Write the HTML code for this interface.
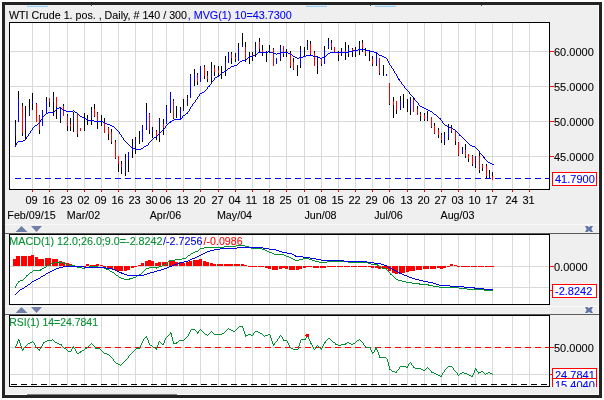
<!DOCTYPE html><html><head><meta charset="utf-8"><title>WTI Crude chart</title>
<style>html,body{margin:0;padding:0;background:#fff;}svg{display:block}text{font-family:"Liberation Sans",sans-serif;font-size:11px;stroke-width:0.1px;}</style></head><body>
<svg width="604" height="400" viewBox="0 0 604 400">
<rect x="0" y="0" width="604" height="400" fill="#fff"/>
<g shape-rendering="crispEdges">
<rect x="2" y="2" width="600" height="396" fill="#232323"/>
<rect x="5" y="5" width="594" height="390" fill="#efefef"/>
<rect x="27" y="5" width="21" height="2" fill="#d6ebfb"/><rect x="27" y="6" width="21" height="1" fill="#9ccdf3"/>
<rect x="306" y="5" width="21" height="2" fill="#d6ebfb"/><rect x="306" y="6" width="21" height="1" fill="#9ccdf3"/>
<rect x="375" y="5" width="21" height="2" fill="#d6ebfb"/><rect x="375" y="6" width="21" height="1" fill="#9ccdf3"/>
<rect x="91" y="5" width="1" height="1" fill="#555"/>
<rect x="370" y="5" width="1" height="1" fill="#555"/>
<rect x="481" y="5" width="1" height="1" fill="#555"/>
<rect x="5" y="394" width="594" height="1" fill="#fbfbfb"/>
<rect x="598" y="5" width="1" height="390" fill="#fbfbfb"/>
<rect x="27" y="394" width="150" height="1" fill="#808080"/>
<rect x="5" y="224" width="594" height="1" fill="#fafafa"/>
<rect x="5" y="306" width="594" height="1" fill="#fafafa"/>
<rect x="5" y="233" width="594" height="1" fill="#5a5a5a"/>
<rect x="5" y="314" width="594" height="1" fill="#5a5a5a"/>
<rect x="9" y="22" width="541" height="168" fill="#fff"/>
<rect x="32" y="23" width="1" height="166" fill="#d9d9d9"/>
<rect x="49" y="23" width="1" height="166" fill="#d9d9d9"/>
<rect x="67" y="23" width="1" height="166" fill="#d9d9d9"/>
<rect x="84" y="23" width="1" height="166" fill="#d9d9d9"/>
<rect x="101" y="23" width="1" height="166" fill="#d9d9d9"/>
<rect x="118" y="23" width="1" height="166" fill="#d9d9d9"/>
<rect x="135" y="23" width="1" height="166" fill="#d9d9d9"/>
<rect x="152" y="23" width="1" height="166" fill="#d9d9d9"/>
<rect x="166" y="23" width="1" height="166" fill="#d9d9d9"/>
<rect x="183" y="23" width="1" height="166" fill="#d9d9d9"/>
<rect x="200" y="23" width="1" height="166" fill="#d9d9d9"/>
<rect x="218" y="23" width="1" height="166" fill="#d9d9d9"/>
<rect x="235" y="23" width="1" height="166" fill="#d9d9d9"/>
<rect x="252" y="23" width="1" height="166" fill="#d9d9d9"/>
<rect x="269" y="23" width="1" height="166" fill="#d9d9d9"/>
<rect x="286" y="23" width="1" height="166" fill="#d9d9d9"/>
<rect x="304" y="23" width="1" height="166" fill="#d9d9d9"/>
<rect x="321" y="23" width="1" height="166" fill="#d9d9d9"/>
<rect x="338" y="23" width="1" height="166" fill="#d9d9d9"/>
<rect x="355" y="23" width="1" height="166" fill="#d9d9d9"/>
<rect x="372" y="23" width="1" height="166" fill="#d9d9d9"/>
<rect x="389" y="23" width="1" height="166" fill="#d9d9d9"/>
<rect x="407" y="23" width="1" height="166" fill="#d9d9d9"/>
<rect x="424" y="23" width="1" height="166" fill="#d9d9d9"/>
<rect x="441" y="23" width="1" height="166" fill="#d9d9d9"/>
<rect x="458" y="23" width="1" height="166" fill="#d9d9d9"/>
<rect x="475" y="23" width="1" height="166" fill="#d9d9d9"/>
<rect x="492" y="23" width="1" height="166" fill="#d9d9d9"/>
<rect x="512" y="23" width="1" height="166" fill="#d9d9d9"/>
<rect x="529" y="23" width="1" height="166" fill="#d9d9d9"/>
<rect x="10" y="51" width="539" height="1" fill="#d9d9d9"/>
<rect x="10" y="86" width="539" height="1" fill="#d9d9d9"/>
<rect x="10" y="121" width="539" height="1" fill="#d9d9d9"/>
<rect x="10" y="156" width="539" height="1" fill="#d9d9d9"/>
<rect x="9" y="234" width="541" height="71" fill="#fff"/>
<rect x="32" y="235" width="1" height="69" fill="#d9d9d9"/>
<rect x="49" y="235" width="1" height="69" fill="#d9d9d9"/>
<rect x="67" y="235" width="1" height="69" fill="#d9d9d9"/>
<rect x="84" y="235" width="1" height="69" fill="#d9d9d9"/>
<rect x="101" y="235" width="1" height="69" fill="#d9d9d9"/>
<rect x="118" y="235" width="1" height="69" fill="#d9d9d9"/>
<rect x="135" y="235" width="1" height="69" fill="#d9d9d9"/>
<rect x="152" y="235" width="1" height="69" fill="#d9d9d9"/>
<rect x="166" y="235" width="1" height="69" fill="#d9d9d9"/>
<rect x="183" y="235" width="1" height="69" fill="#d9d9d9"/>
<rect x="200" y="235" width="1" height="69" fill="#d9d9d9"/>
<rect x="218" y="235" width="1" height="69" fill="#d9d9d9"/>
<rect x="235" y="235" width="1" height="69" fill="#d9d9d9"/>
<rect x="252" y="235" width="1" height="69" fill="#d9d9d9"/>
<rect x="269" y="235" width="1" height="69" fill="#d9d9d9"/>
<rect x="286" y="235" width="1" height="69" fill="#d9d9d9"/>
<rect x="304" y="235" width="1" height="69" fill="#d9d9d9"/>
<rect x="321" y="235" width="1" height="69" fill="#d9d9d9"/>
<rect x="338" y="235" width="1" height="69" fill="#d9d9d9"/>
<rect x="355" y="235" width="1" height="69" fill="#d9d9d9"/>
<rect x="372" y="235" width="1" height="69" fill="#d9d9d9"/>
<rect x="389" y="235" width="1" height="69" fill="#d9d9d9"/>
<rect x="407" y="235" width="1" height="69" fill="#d9d9d9"/>
<rect x="424" y="235" width="1" height="69" fill="#d9d9d9"/>
<rect x="441" y="235" width="1" height="69" fill="#d9d9d9"/>
<rect x="458" y="235" width="1" height="69" fill="#d9d9d9"/>
<rect x="475" y="235" width="1" height="69" fill="#d9d9d9"/>
<rect x="492" y="235" width="1" height="69" fill="#d9d9d9"/>
<rect x="512" y="235" width="1" height="69" fill="#d9d9d9"/>
<rect x="529" y="235" width="1" height="69" fill="#d9d9d9"/>
<rect x="10" y="266" width="539" height="1" fill="#d9d9d9"/>
<rect x="10" y="287" width="539" height="1" fill="#d9d9d9"/>
<rect x="9" y="315" width="541" height="72" fill="#fff"/>
<rect x="32" y="316" width="1" height="70" fill="#d9d9d9"/>
<rect x="49" y="316" width="1" height="70" fill="#d9d9d9"/>
<rect x="67" y="316" width="1" height="70" fill="#d9d9d9"/>
<rect x="84" y="316" width="1" height="70" fill="#d9d9d9"/>
<rect x="101" y="316" width="1" height="70" fill="#d9d9d9"/>
<rect x="118" y="316" width="1" height="70" fill="#d9d9d9"/>
<rect x="135" y="316" width="1" height="70" fill="#d9d9d9"/>
<rect x="152" y="316" width="1" height="70" fill="#d9d9d9"/>
<rect x="166" y="316" width="1" height="70" fill="#d9d9d9"/>
<rect x="183" y="316" width="1" height="70" fill="#d9d9d9"/>
<rect x="200" y="316" width="1" height="70" fill="#d9d9d9"/>
<rect x="218" y="316" width="1" height="70" fill="#d9d9d9"/>
<rect x="235" y="316" width="1" height="70" fill="#d9d9d9"/>
<rect x="252" y="316" width="1" height="70" fill="#d9d9d9"/>
<rect x="269" y="316" width="1" height="70" fill="#d9d9d9"/>
<rect x="286" y="316" width="1" height="70" fill="#d9d9d9"/>
<rect x="304" y="316" width="1" height="70" fill="#d9d9d9"/>
<rect x="321" y="316" width="1" height="70" fill="#d9d9d9"/>
<rect x="338" y="316" width="1" height="70" fill="#d9d9d9"/>
<rect x="355" y="316" width="1" height="70" fill="#d9d9d9"/>
<rect x="372" y="316" width="1" height="70" fill="#d9d9d9"/>
<rect x="389" y="316" width="1" height="70" fill="#d9d9d9"/>
<rect x="407" y="316" width="1" height="70" fill="#d9d9d9"/>
<rect x="424" y="316" width="1" height="70" fill="#d9d9d9"/>
<rect x="441" y="316" width="1" height="70" fill="#d9d9d9"/>
<rect x="458" y="316" width="1" height="70" fill="#d9d9d9"/>
<rect x="475" y="316" width="1" height="70" fill="#d9d9d9"/>
<rect x="492" y="316" width="1" height="70" fill="#d9d9d9"/>
<rect x="512" y="316" width="1" height="70" fill="#d9d9d9"/>
<rect x="529" y="316" width="1" height="70" fill="#d9d9d9"/>
<rect x="10" y="347" width="539" height="1" fill="#d9d9d9"/>
<rect x="10" y="374" width="539" height="1" fill="#d9d9d9"/>
</g>
<g shape-rendering="crispEdges">
<rect x="15" y="120" width="1" height="25" fill="#000"/>
<rect x="15" y="124" width="1" height="12" fill="#0000ff"/>
<rect x="18" y="91" width="1" height="31" fill="#000"/>
<rect x="18" y="99" width="1" height="23" fill="#0000ff"/>
<rect x="22" y="103" width="1" height="33" fill="#000"/>
<rect x="22" y="106" width="1" height="27" fill="#ff0000"/>
<rect x="25" y="106" width="1" height="34" fill="#000"/>
<rect x="25" y="117" width="1" height="12" fill="#0000ff"/>
<rect x="29" y="99" width="1" height="17" fill="#000"/>
<rect x="29" y="109" width="1" height="7" fill="#0000ff"/>
<rect x="32" y="93" width="1" height="17" fill="#000"/>
<rect x="32" y="101" width="1" height="3" fill="#0000ff"/>
<rect x="36" y="103" width="1" height="19" fill="#000"/>
<rect x="36" y="104" width="1" height="18" fill="#ff0000"/>
<rect x="39" y="115" width="1" height="19" fill="#000"/>
<rect x="39" y="116" width="1" height="14" fill="#ff0000"/>
<rect x="42" y="110" width="1" height="16" fill="#000"/>
<rect x="42" y="111" width="1" height="15" fill="#0000ff"/>
<rect x="46" y="97" width="1" height="16" fill="#000"/>
<rect x="46" y="101" width="1" height="12" fill="#0000ff"/>
<rect x="49" y="98" width="1" height="9" fill="#000"/>
<rect x="49" y="98" width="1" height="4" fill="#ff0000"/>
<rect x="53" y="92" width="1" height="24" fill="#000"/>
<rect x="53" y="96" width="1" height="6" fill="#0000ff"/>
<rect x="56" y="97" width="1" height="22" fill="#000"/>
<rect x="56" y="97" width="1" height="10" fill="#ff0000"/>
<rect x="60" y="107" width="1" height="16" fill="#000"/>
<rect x="60" y="109" width="1" height="9" fill="#0000ff"/>
<rect x="63" y="104" width="1" height="12" fill="#000"/>
<rect x="63" y="106" width="1" height="10" fill="#ff0000"/>
<rect x="67" y="114" width="1" height="17" fill="#000"/>
<rect x="67" y="116" width="1" height="10" fill="#ff0000"/>
<rect x="70" y="118" width="1" height="13" fill="#000"/>
<rect x="70" y="124" width="1" height="3" fill="#ff0000"/>
<rect x="73" y="112" width="1" height="20" fill="#000"/>
<rect x="73" y="113" width="1" height="14" fill="#0000ff"/>
<rect x="77" y="114" width="1" height="23" fill="#000"/>
<rect x="77" y="114" width="1" height="20" fill="#ff0000"/>
<rect x="80" y="128" width="1" height="3" fill="#000"/>
<rect x="80" y="128" width="1" height="3" fill="#ff0000"/>
<rect x="84" y="113" width="1" height="18" fill="#000"/>
<rect x="87" y="115" width="1" height="10" fill="#000"/>
<rect x="87" y="118" width="1" height="3" fill="#0000ff"/>
<rect x="91" y="107" width="1" height="18" fill="#000"/>
<rect x="91" y="110" width="1" height="8" fill="#0000ff"/>
<rect x="94" y="104" width="1" height="13" fill="#000"/>
<rect x="94" y="109" width="1" height="7" fill="#ff0000"/>
<rect x="97" y="112" width="1" height="17" fill="#000"/>
<rect x="97" y="113" width="1" height="10" fill="#ff0000"/>
<rect x="101" y="115" width="1" height="11" fill="#000"/>
<rect x="104" y="118" width="1" height="15" fill="#000"/>
<rect x="104" y="122" width="1" height="11" fill="#ff0000"/>
<rect x="108" y="127" width="1" height="13" fill="#000"/>
<rect x="108" y="128" width="1" height="6" fill="#ff0000"/>
<rect x="111" y="129" width="1" height="15" fill="#000"/>
<rect x="111" y="132" width="1" height="10" fill="#ff0000"/>
<rect x="115" y="140" width="1" height="19" fill="#000"/>
<rect x="115" y="142" width="1" height="16" fill="#ff0000"/>
<rect x="118" y="156" width="1" height="16" fill="#000"/>
<rect x="118" y="156" width="1" height="8" fill="#ff0000"/>
<rect x="121" y="161" width="1" height="13" fill="#000"/>
<rect x="121" y="164" width="1" height="3" fill="#ff0000"/>
<rect x="125" y="154" width="1" height="22" fill="#000"/>
<rect x="125" y="158" width="1" height="15" fill="#0000ff"/>
<rect x="128" y="152" width="1" height="20" fill="#000"/>
<rect x="128" y="152" width="1" height="8" fill="#0000ff"/>
<rect x="132" y="139" width="1" height="19" fill="#000"/>
<rect x="132" y="146" width="1" height="5" fill="#0000ff"/>
<rect x="135" y="137" width="1" height="17" fill="#000"/>
<rect x="135" y="138" width="1" height="9" fill="#0000ff"/>
<rect x="139" y="131" width="1" height="13" fill="#000"/>
<rect x="139" y="138" width="1" height="2" fill="#0000ff"/>
<rect x="142" y="125" width="1" height="17" fill="#000"/>
<rect x="142" y="126" width="1" height="14" fill="#0000ff"/>
<rect x="146" y="103" width="1" height="27" fill="#000"/>
<rect x="146" y="111" width="1" height="19" fill="#0000ff"/>
<rect x="149" y="113" width="1" height="21" fill="#000"/>
<rect x="149" y="114" width="1" height="16" fill="#ff0000"/>
<rect x="152" y="127" width="1" height="11" fill="#000"/>
<rect x="152" y="130" width="1" height="2" fill="#0000ff"/>
<rect x="156" y="130" width="1" height="10" fill="#000"/>
<rect x="156" y="131" width="1" height="6" fill="#ff0000"/>
<rect x="159" y="118" width="1" height="24" fill="#000"/>
<rect x="159" y="119" width="1" height="19" fill="#0000ff"/>
<rect x="163" y="119" width="1" height="16" fill="#000"/>
<rect x="163" y="124" width="1" height="4" fill="#ff0000"/>
<rect x="166" y="105" width="1" height="19" fill="#000"/>
<rect x="166" y="107" width="1" height="17" fill="#0000ff"/>
<rect x="170" y="92" width="1" height="21" fill="#000"/>
<rect x="170" y="92" width="1" height="18" fill="#0000ff"/>
<rect x="173" y="99" width="1" height="20" fill="#000"/>
<rect x="173" y="101" width="1" height="17" fill="#ff0000"/>
<rect x="176" y="106" width="1" height="12" fill="#000"/>
<rect x="180" y="107" width="1" height="13" fill="#000"/>
<rect x="180" y="109" width="1" height="10" fill="#0000ff"/>
<rect x="183" y="99" width="1" height="12" fill="#000"/>
<rect x="183" y="107" width="1" height="4" fill="#0000ff"/>
<rect x="187" y="95" width="1" height="11" fill="#000"/>
<rect x="187" y="98" width="1" height="8" fill="#0000ff"/>
<rect x="190" y="74" width="1" height="24" fill="#000"/>
<rect x="190" y="76" width="1" height="22" fill="#0000ff"/>
<rect x="194" y="69" width="1" height="17" fill="#000"/>
<rect x="194" y="74" width="1" height="6" fill="#0000ff"/>
<rect x="197" y="73" width="1" height="12" fill="#000"/>
<rect x="197" y="75" width="1" height="7" fill="#ff0000"/>
<rect x="200" y="66" width="1" height="16" fill="#000"/>
<rect x="200" y="66" width="1" height="16" fill="#0000ff"/>
<rect x="204" y="65" width="1" height="14" fill="#000"/>
<rect x="204" y="67" width="1" height="9" fill="#ff0000"/>
<rect x="207" y="71" width="1" height="11" fill="#000"/>
<rect x="207" y="76" width="1" height="3" fill="#ff0000"/>
<rect x="211" y="62" width="1" height="20" fill="#000"/>
<rect x="211" y="67" width="1" height="11" fill="#0000ff"/>
<rect x="214" y="65" width="1" height="11" fill="#000"/>
<rect x="214" y="68" width="1" height="4" fill="#ff0000"/>
<rect x="218" y="66" width="1" height="10" fill="#000"/>
<rect x="218" y="70" width="1" height="3" fill="#ff0000"/>
<rect x="221" y="66" width="1" height="13" fill="#000"/>
<rect x="225" y="56" width="1" height="20" fill="#000"/>
<rect x="225" y="61" width="1" height="10" fill="#0000ff"/>
<rect x="228" y="52" width="1" height="11" fill="#000"/>
<rect x="228" y="53" width="1" height="10" fill="#0000ff"/>
<rect x="231" y="52" width="1" height="12" fill="#000"/>
<rect x="231" y="54" width="1" height="4" fill="#ff0000"/>
<rect x="235" y="53" width="1" height="9" fill="#000"/>
<rect x="235" y="57" width="1" height="2" fill="#ff0000"/>
<rect x="238" y="43" width="1" height="18" fill="#000"/>
<rect x="238" y="48" width="1" height="13" fill="#0000ff"/>
<rect x="242" y="33" width="1" height="14" fill="#000"/>
<rect x="242" y="45" width="1" height="2" fill="#0000ff"/>
<rect x="245" y="42" width="1" height="20" fill="#000"/>
<rect x="245" y="47" width="1" height="12" fill="#ff0000"/>
<rect x="249" y="52" width="1" height="12" fill="#000"/>
<rect x="252" y="52" width="1" height="9" fill="#000"/>
<rect x="252" y="55" width="1" height="1" fill="#ff0000"/>
<rect x="255" y="42" width="1" height="15" fill="#000"/>
<rect x="255" y="46" width="1" height="9" fill="#0000ff"/>
<rect x="259" y="38" width="1" height="14" fill="#000"/>
<rect x="259" y="42" width="1" height="7" fill="#ff0000"/>
<rect x="262" y="45" width="1" height="11" fill="#000"/>
<rect x="262" y="50" width="1" height="2" fill="#ff0000"/>
<rect x="266" y="51" width="1" height="11" fill="#000"/>
<rect x="269" y="45" width="1" height="8" fill="#000"/>
<rect x="269" y="49" width="1" height="3" fill="#0000ff"/>
<rect x="273" y="48" width="1" height="18" fill="#000"/>
<rect x="273" y="49" width="1" height="17" fill="#ff0000"/>
<rect x="276" y="58" width="1" height="6" fill="#000"/>
<rect x="276" y="58" width="1" height="6" fill="#0000ff"/>
<rect x="280" y="45" width="1" height="16" fill="#000"/>
<rect x="280" y="47" width="1" height="12" fill="#0000ff"/>
<rect x="283" y="46" width="1" height="11" fill="#000"/>
<rect x="283" y="46" width="1" height="8" fill="#ff0000"/>
<rect x="286" y="49" width="1" height="8" fill="#000"/>
<rect x="290" y="51" width="1" height="17" fill="#000"/>
<rect x="290" y="53" width="1" height="13" fill="#ff0000"/>
<rect x="293" y="58" width="1" height="12" fill="#000"/>
<rect x="293" y="62" width="1" height="7" fill="#ff0000"/>
<rect x="297" y="65" width="1" height="11" fill="#000"/>
<rect x="300" y="46" width="1" height="22" fill="#000"/>
<rect x="300" y="49" width="1" height="16" fill="#0000ff"/>
<rect x="304" y="47" width="1" height="10" fill="#000"/>
<rect x="307" y="40" width="1" height="10" fill="#000"/>
<rect x="307" y="42" width="1" height="8" fill="#0000ff"/>
<rect x="310" y="41" width="1" height="15" fill="#000"/>
<rect x="310" y="44" width="1" height="10" fill="#ff0000"/>
<rect x="314" y="51" width="1" height="15" fill="#000"/>
<rect x="314" y="53" width="1" height="13" fill="#ff0000"/>
<rect x="317" y="56" width="1" height="18" fill="#000"/>
<rect x="317" y="57" width="1" height="9" fill="#0000ff"/>
<rect x="321" y="58" width="1" height="8" fill="#000"/>
<rect x="321" y="59" width="1" height="5" fill="#ff0000"/>
<rect x="324" y="46" width="1" height="18" fill="#000"/>
<rect x="324" y="50" width="1" height="14" fill="#0000ff"/>
<rect x="328" y="38" width="1" height="11" fill="#000"/>
<rect x="328" y="41" width="1" height="7" fill="#0000ff"/>
<rect x="331" y="40" width="1" height="10" fill="#000"/>
<rect x="331" y="43" width="1" height="4" fill="#ff0000"/>
<rect x="334" y="47" width="1" height="6" fill="#000"/>
<rect x="334" y="47" width="1" height="5" fill="#ff0000"/>
<rect x="338" y="51" width="1" height="10" fill="#000"/>
<rect x="338" y="53" width="1" height="2" fill="#ff0000"/>
<rect x="341" y="48" width="1" height="8" fill="#000"/>
<rect x="341" y="51" width="1" height="3" fill="#0000ff"/>
<rect x="345" y="42" width="1" height="18" fill="#000"/>
<rect x="345" y="51" width="1" height="2" fill="#ff0000"/>
<rect x="348" y="45" width="1" height="12" fill="#000"/>
<rect x="348" y="48" width="1" height="6" fill="#0000ff"/>
<rect x="352" y="48" width="1" height="9" fill="#000"/>
<rect x="352" y="49" width="1" height="2" fill="#ff0000"/>
<rect x="355" y="47" width="1" height="10" fill="#000"/>
<rect x="355" y="49" width="1" height="5" fill="#0000ff"/>
<rect x="359" y="41" width="1" height="14" fill="#000"/>
<rect x="359" y="44" width="1" height="7" fill="#0000ff"/>
<rect x="362" y="40" width="1" height="12" fill="#000"/>
<rect x="362" y="43" width="1" height="5" fill="#ff0000"/>
<rect x="365" y="48" width="1" height="8" fill="#000"/>
<rect x="365" y="50" width="1" height="4" fill="#ff0000"/>
<rect x="369" y="50" width="1" height="11" fill="#000"/>
<rect x="372" y="56" width="1" height="10" fill="#000"/>
<rect x="372" y="59" width="1" height="5" fill="#ff0000"/>
<rect x="376" y="53" width="1" height="13" fill="#000"/>
<rect x="376" y="53" width="1" height="11" fill="#0000ff"/>
<rect x="379" y="58" width="1" height="17" fill="#000"/>
<rect x="379" y="58" width="1" height="15" fill="#ff0000"/>
<rect x="383" y="65" width="1" height="11" fill="#000"/>
<rect x="386" y="74" width="1" height="2" fill="#000"/>
<rect x="386" y="74" width="1" height="2" fill="#0000ff"/>
<rect x="389" y="83" width="1" height="22" fill="#000"/>
<rect x="389" y="83" width="1" height="21" fill="#ff0000"/>
<rect x="393" y="97" width="1" height="21" fill="#000"/>
<rect x="393" y="101" width="1" height="4" fill="#ff0000"/>
<rect x="396" y="101" width="1" height="13" fill="#000"/>
<rect x="396" y="101" width="1" height="9" fill="#ff0000"/>
<rect x="400" y="96" width="1" height="14" fill="#000"/>
<rect x="400" y="101" width="1" height="8" fill="#0000ff"/>
<rect x="403" y="94" width="1" height="14" fill="#000"/>
<rect x="407" y="99" width="1" height="13" fill="#000"/>
<rect x="410" y="97" width="1" height="18" fill="#000"/>
<rect x="410" y="100" width="1" height="9" fill="#0000ff"/>
<rect x="413" y="97" width="1" height="15" fill="#000"/>
<rect x="413" y="99" width="1" height="13" fill="#ff0000"/>
<rect x="417" y="106" width="1" height="9" fill="#000"/>
<rect x="417" y="109" width="1" height="6" fill="#ff0000"/>
<rect x="420" y="112" width="1" height="9" fill="#000"/>
<rect x="420" y="114" width="1" height="2" fill="#ff0000"/>
<rect x="424" y="113" width="1" height="8" fill="#000"/>
<rect x="424" y="115" width="1" height="4" fill="#ff0000"/>
<rect x="427" y="111" width="1" height="10" fill="#000"/>
<rect x="427" y="115" width="1" height="5" fill="#0000ff"/>
<rect x="431" y="117" width="1" height="11" fill="#000"/>
<rect x="431" y="117" width="1" height="10" fill="#ff0000"/>
<rect x="434" y="123" width="1" height="11" fill="#000"/>
<rect x="434" y="126" width="1" height="7" fill="#ff0000"/>
<rect x="438" y="128" width="1" height="10" fill="#000"/>
<rect x="438" y="130" width="1" height="5" fill="#ff0000"/>
<rect x="441" y="133" width="1" height="10" fill="#000"/>
<rect x="441" y="135" width="1" height="5" fill="#ff0000"/>
<rect x="444" y="132" width="1" height="13" fill="#000"/>
<rect x="444" y="135" width="1" height="7" fill="#0000ff"/>
<rect x="448" y="124" width="1" height="16" fill="#000"/>
<rect x="448" y="128" width="1" height="9" fill="#0000ff"/>
<rect x="451" y="125" width="1" height="8" fill="#000"/>
<rect x="451" y="128" width="1" height="3" fill="#ff0000"/>
<rect x="455" y="130" width="1" height="15" fill="#000"/>
<rect x="455" y="131" width="1" height="10" fill="#ff0000"/>
<rect x="458" y="142" width="1" height="14" fill="#000"/>
<rect x="458" y="142" width="1" height="13" fill="#ff0000"/>
<rect x="462" y="147" width="1" height="7" fill="#000"/>
<rect x="462" y="149" width="1" height="4" fill="#0000ff"/>
<rect x="465" y="144" width="1" height="14" fill="#000"/>
<rect x="465" y="150" width="1" height="6" fill="#ff0000"/>
<rect x="468" y="154" width="1" height="8" fill="#000"/>
<rect x="468" y="154" width="1" height="5" fill="#ff0000"/>
<rect x="472" y="155" width="1" height="11" fill="#000"/>
<rect x="472" y="156" width="1" height="8" fill="#ff0000"/>
<rect x="475" y="156" width="1" height="12" fill="#000"/>
<rect x="475" y="156" width="1" height="10" fill="#0000ff"/>
<rect x="479" y="153" width="1" height="20" fill="#000"/>
<rect x="479" y="156" width="1" height="14" fill="#ff0000"/>
<rect x="482" y="164" width="1" height="7" fill="#000"/>
<rect x="482" y="165" width="1" height="3" fill="#ff0000"/>
<rect x="486" y="164" width="1" height="14" fill="#000"/>
<rect x="486" y="166" width="1" height="10" fill="#ff0000"/>
<rect x="489" y="170" width="1" height="8" fill="#000"/>
<rect x="489" y="173" width="1" height="4" fill="#0000ff"/>
<rect x="492" y="172" width="1" height="8" fill="#000"/>
<rect x="492" y="176" width="1" height="4" fill="#ff0000"/>
</g>
<line x1="15" y1="178.5" x2="550" y2="178.5" stroke="#0000ff" stroke-width="1" stroke-dasharray="6 4" shape-rendering="crispEdges"/>
<path d="M358 49h7v1h-7zM353 50h5v1h-5zM365 50h5v1h-5zM268 51h2v1h-2zM348 51h5v1h-5zM370 51h4v1h-4zM258 52h10v1h-10zM270 52h3v1h-3zM281 52h7v1h-7zM330 52h11v1h-11zM342 52h6v1h-6zM374 52h3v1h-3zM257 53h1v1h-1zM273 53h3v1h-3zM277 53h4v1h-4zM288 53h2v1h-2zM328 53h2v1h-2zM341 53h1v1h-1zM377 53h1v1h-1zM255 54h2v1h-2zM276 54h1v1h-1zM290 54h2v1h-2zM327 54h1v1h-1zM378 54h1v1h-1zM253 55h2v1h-2zM292 55h1v1h-1zM306 55h7v1h-7zM326 55h1v1h-1zM379 55h3v1h-3zM250 56h3v1h-3zM293 56h2v1h-2zM303 56h3v1h-3zM313 56h4v1h-4zM324 56h2v1h-2zM382 56h2v1h-2zM248 57h2v1h-2zM295 57h2v1h-2zM299 57h4v1h-4zM317 57h3v1h-3zM322 57h2v1h-2zM384 57h2v1h-2zM247 58h1v1h-1zM297 58h2v1h-2zM320 58h2v1h-2zM386 58h1v1h-1zM245 59h2v1h-2zM387 59h1v1h-1zM242 60h4v1h-4zM387 60h1v1h-1zM240 61h2v1h-2zM388 61h1v1h-1zM239 62h1v1h-1zM388 62h1v1h-1zM238 63h1v1h-1zM389 63h1v1h-1zM237 64h1v1h-1zM389 64h1v1h-1zM234 65h3v1h-3zM390 65h1v1h-1zM231 66h3v1h-3zM391 66h1v1h-1zM230 67h1v1h-1zM391 67h1v1h-1zM228 68h2v1h-2zM392 68h1v1h-1zM227 69h1v1h-1zM393 69h1v1h-1zM226 70h1v1h-1zM393 70h1v1h-1zM224 71h2v1h-2zM394 71h1v1h-1zM222 72h2v1h-2zM394 72h1v1h-1zM221 73h1v1h-1zM395 73h1v1h-1zM220 74h1v1h-1zM396 74h1v1h-1zM219 75h1v1h-1zM396 75h1v1h-1zM217 76h2v1h-2zM397 76h1v1h-1zM215 77h2v1h-2zM397 77h1v1h-1zM214 78h1v1h-1zM398 78h1v1h-1zM214 79h1v1h-1zM398 79h2v1h-2zM213 80h1v1h-1zM399 80h1v1h-1zM212 81h1v1h-1zM400 81h1v1h-1zM211 82h1v1h-1zM401 82h1v1h-1zM211 83h1v1h-1zM401 83h1v1h-1zM210 84h1v1h-1zM402 84h1v1h-1zM209 85h1v1h-1zM403 85h1v1h-1zM208 86h2v1h-2zM404 86h1v1h-1zM207 87h1v1h-1zM404 87h1v1h-1zM207 88h1v1h-1zM405 88h1v1h-1zM206 89h1v1h-1zM406 89h1v1h-1zM205 90h1v1h-1zM407 90h1v1h-1zM204 91h1v1h-1zM408 91h1v1h-1zM202 92h2v1h-2zM409 92h1v1h-1zM200 93h2v1h-2zM409 93h1v1h-1zM199 94h1v1h-1zM410 94h1v1h-1zM199 95h1v1h-1zM411 95h1v1h-1zM198 96h1v1h-1zM412 96h1v1h-1zM197 97h1v1h-1zM413 97h1v1h-1zM197 98h1v1h-1zM414 98h1v1h-1zM196 99h1v1h-1zM414 99h1v1h-1zM195 100h1v1h-1zM415 100h1v1h-1zM195 101h1v1h-1zM416 101h1v1h-1zM194 102h1v1h-1zM417 102h1v1h-1zM193 103h1v1h-1zM418 103h1v1h-1zM192 104h1v1h-1zM418 104h1v1h-1zM192 105h1v1h-1zM419 105h1v1h-1zM191 106h1v1h-1zM420 106h2v1h-2zM59 107h2v1h-2zM190 107h1v1h-1zM422 107h2v1h-2zM56 108h3v1h-3zM61 108h1v1h-1zM190 108h1v1h-1zM424 108h2v1h-2zM56 109h1v1h-1zM62 109h1v1h-1zM189 109h1v1h-1zM426 109h2v1h-2zM55 110h1v1h-1zM63 110h3v1h-3zM73 110h1v1h-1zM189 110h1v1h-1zM428 110h2v1h-2zM54 111h1v1h-1zM66 111h7v1h-7zM74 111h1v1h-1zM188 111h1v1h-1zM430 111h2v1h-2zM48 112h6v1h-6zM75 112h2v1h-2zM187 112h1v1h-1zM432 112h1v1h-1zM46 113h2v1h-2zM77 113h1v1h-1zM186 113h2v1h-2zM433 113h1v1h-1zM45 114h1v1h-1zM78 114h1v1h-1zM185 114h1v1h-1zM434 114h2v1h-2zM44 115h1v1h-1zM79 115h1v1h-1zM183 115h2v1h-2zM436 115h1v1h-1zM43 116h1v1h-1zM80 116h2v1h-2zM182 116h1v1h-1zM437 116h1v1h-1zM42 117h1v1h-1zM82 117h2v1h-2zM182 117h1v1h-1zM438 117h1v1h-1zM42 118h1v1h-1zM84 118h2v1h-2zM181 118h1v1h-1zM439 118h2v1h-2zM41 119h1v1h-1zM86 119h1v1h-1zM174 119h7v1h-7zM440 119h1v1h-1zM40 120h1v1h-1zM87 120h7v1h-7zM172 120h2v1h-2zM441 120h1v1h-1zM40 121h1v1h-1zM94 121h9v1h-9zM170 121h2v1h-2zM442 121h1v1h-1zM39 122h1v1h-1zM97 122h1v1h-1zM103 122h2v1h-2zM169 122h2v1h-2zM442 122h1v1h-1zM38 123h1v1h-1zM105 123h2v1h-2zM168 123h1v1h-1zM443 123h1v1h-1zM37 124h1v1h-1zM107 124h3v1h-3zM167 124h1v1h-1zM444 124h1v1h-1zM35 125h2v1h-2zM110 125h2v1h-2zM166 125h1v1h-1zM445 125h2v1h-2zM34 126h1v1h-1zM112 126h2v1h-2zM165 126h1v1h-1zM447 126h2v1h-2zM33 127h1v1h-1zM114 127h1v1h-1zM165 127h1v1h-1zM449 127h3v1h-3zM32 128h1v1h-1zM115 128h1v1h-1zM164 128h1v1h-1zM452 128h1v1h-1zM32 129h1v1h-1zM116 129h1v1h-1zM163 129h1v1h-1zM453 129h2v1h-2zM31 130h1v1h-1zM117 130h1v1h-1zM162 130h2v1h-2zM455 130h1v1h-1zM30 131h1v1h-1zM118 131h1v1h-1zM161 131h1v1h-1zM456 131h1v1h-1zM30 132h1v1h-1zM119 132h1v1h-1zM160 132h1v1h-1zM457 132h1v1h-1zM29 133h1v1h-1zM119 133h1v1h-1zM159 133h1v1h-1zM458 133h1v1h-1zM28 134h1v1h-1zM120 134h1v1h-1zM158 134h1v1h-1zM459 134h1v1h-1zM28 135h1v1h-1zM121 135h1v1h-1zM157 135h1v1h-1zM459 135h2v1h-2zM27 136h1v1h-1zM121 136h1v1h-1zM156 136h1v1h-1zM461 136h1v1h-1zM26 137h1v1h-1zM122 137h1v1h-1zM154 137h2v1h-2zM462 137h1v1h-1zM26 138h1v1h-1zM123 138h1v1h-1zM153 138h1v1h-1zM463 138h1v1h-1zM25 139h1v1h-1zM123 139h1v1h-1zM152 139h1v1h-1zM464 139h1v1h-1zM23 140h2v1h-2zM124 140h1v1h-1zM151 140h1v1h-1zM465 140h1v1h-1zM18 141h5v1h-5zM125 141h1v1h-1zM150 141h1v1h-1zM466 141h1v1h-1zM17 142h1v1h-1zM126 142h1v1h-1zM149 142h1v1h-1zM467 142h1v1h-1zM16 143h1v1h-1zM127 143h1v1h-1zM148 143h1v1h-1zM468 143h1v1h-1zM16 144h1v1h-1zM128 144h1v1h-1zM148 144h1v1h-1zM469 144h1v1h-1zM15 145h1v1h-1zM129 145h1v1h-1zM146 145h2v1h-2zM470 145h2v1h-2zM15 146h1v1h-1zM130 146h1v1h-1zM144 146h2v1h-2zM472 146h3v1h-3zM131 147h2v1h-2zM143 147h1v1h-1zM475 147h1v1h-1zM133 148h2v1h-2zM141 148h2v1h-2zM476 148h1v1h-1zM135 149h6v1h-6zM477 149h1v1h-1zM478 150h1v1h-1zM479 151h1v1h-1zM479 152h1v1h-1zM480 153h1v1h-1zM481 154h1v1h-1zM482 155h1v1h-1zM483 156h1v1h-1zM483 157h2v1h-2zM484 158h1v1h-1zM485 159h1v1h-1zM486 160h1v1h-1zM487 161h1v1h-1zM488 162h2v1h-2zM490 163h2v1h-2zM492 164h2v1h-2z" fill="#0000ff" shape-rendering="crispEdges"/>
<g shape-rendering="crispEdges">
<rect x="13" y="259" width="3" height="7" fill="#ff0000"/>
<rect x="16" y="256" width="4" height="10" fill="#ff0000"/>
<rect x="21" y="256" width="3" height="10" fill="#ff0000"/>
<rect x="24" y="256" width="3" height="10" fill="#ff0000"/>
<rect x="28" y="256" width="3" height="10" fill="#ff0000"/>
<rect x="31" y="255" width="3" height="11" fill="#ff0000"/>
<rect x="35" y="257" width="3" height="9" fill="#ff0000"/>
<rect x="38" y="259" width="3" height="7" fill="#ff0000"/>
<rect x="41" y="259" width="3" height="7" fill="#ff0000"/>
<rect x="45" y="258" width="3" height="8" fill="#ff0000"/>
<rect x="48" y="258" width="3" height="8" fill="#ff0000"/>
<rect x="52" y="259" width="3" height="7" fill="#ff0000"/>
<rect x="55" y="259" width="3" height="7" fill="#ff0000"/>
<rect x="59" y="261" width="3" height="5" fill="#ff0000"/>
<rect x="62" y="262" width="3" height="4" fill="#ff0000"/>
<rect x="66" y="263" width="3" height="3" fill="#ff0000"/>
<rect x="69" y="264" width="3" height="2" fill="#ff0000"/>
<rect x="72" y="265" width="3" height="1" fill="#ff0000"/>
<rect x="76" y="266" width="3" height="1" fill="#ff0000"/>
<rect x="79" y="266" width="3" height="1" fill="#ff0000"/>
<rect x="83" y="266" width="3" height="1" fill="#ff0000"/>
<rect x="86" y="264" width="3" height="2" fill="#ff0000"/>
<rect x="90" y="265" width="3" height="1" fill="#ff0000"/>
<rect x="93" y="265" width="3" height="1" fill="#ff0000"/>
<rect x="96" y="264" width="3" height="2" fill="#ff0000"/>
<rect x="100" y="265" width="3" height="1" fill="#ff0000"/>
<rect x="103" y="266" width="3" height="1" fill="#ff0000"/>
<rect x="107" y="266" width="3" height="2" fill="#ff0000"/>
<rect x="110" y="266" width="3" height="3" fill="#ff0000"/>
<rect x="114" y="266" width="3" height="4" fill="#ff0000"/>
<rect x="117" y="266" width="3" height="5" fill="#ff0000"/>
<rect x="120" y="266" width="3" height="5" fill="#ff0000"/>
<rect x="124" y="266" width="3" height="5" fill="#ff0000"/>
<rect x="127" y="266" width="3" height="4" fill="#ff0000"/>
<rect x="131" y="266" width="3" height="2" fill="#ff0000"/>
<rect x="134" y="266" width="3" height="1" fill="#ff0000"/>
<rect x="138" y="265" width="3" height="1" fill="#ff0000"/>
<rect x="141" y="263" width="3" height="3" fill="#ff0000"/>
<rect x="145" y="261" width="3" height="5" fill="#ff0000"/>
<rect x="148" y="260" width="3" height="6" fill="#ff0000"/>
<rect x="151" y="261" width="3" height="5" fill="#ff0000"/>
<rect x="155" y="263" width="3" height="3" fill="#ff0000"/>
<rect x="158" y="262" width="3" height="4" fill="#ff0000"/>
<rect x="162" y="262" width="3" height="4" fill="#ff0000"/>
<rect x="165" y="262" width="3" height="4" fill="#ff0000"/>
<rect x="169" y="260" width="3" height="6" fill="#ff0000"/>
<rect x="172" y="261" width="3" height="5" fill="#ff0000"/>
<rect x="175" y="262" width="3" height="4" fill="#ff0000"/>
<rect x="179" y="262" width="3" height="4" fill="#ff0000"/>
<rect x="182" y="263" width="3" height="3" fill="#ff0000"/>
<rect x="186" y="262" width="3" height="4" fill="#ff0000"/>
<rect x="189" y="261" width="3" height="5" fill="#ff0000"/>
<rect x="193" y="260" width="3" height="6" fill="#ff0000"/>
<rect x="196" y="260" width="3" height="6" fill="#ff0000"/>
<rect x="199" y="259" width="3" height="7" fill="#ff0000"/>
<rect x="203" y="261" width="3" height="5" fill="#ff0000"/>
<rect x="206" y="262" width="3" height="4" fill="#ff0000"/>
<rect x="210" y="263" width="3" height="3" fill="#ff0000"/>
<rect x="213" y="264" width="3" height="2" fill="#ff0000"/>
<rect x="217" y="264" width="3" height="2" fill="#ff0000"/>
<rect x="220" y="264" width="3" height="2" fill="#ff0000"/>
<rect x="224" y="264" width="3" height="2" fill="#ff0000"/>
<rect x="227" y="264" width="3" height="2" fill="#ff0000"/>
<rect x="230" y="264" width="3" height="2" fill="#ff0000"/>
<rect x="234" y="264" width="3" height="2" fill="#ff0000"/>
<rect x="237" y="264" width="3" height="2" fill="#ff0000"/>
<rect x="241" y="264" width="3" height="2" fill="#ff0000"/>
<rect x="244" y="265" width="3" height="1" fill="#ff0000"/>
<rect x="248" y="266" width="3" height="1" fill="#ff0000"/>
<rect x="251" y="266" width="3" height="1" fill="#ff0000"/>
<rect x="254" y="266" width="3" height="1" fill="#ff0000"/>
<rect x="258" y="266" width="3" height="1" fill="#ff0000"/>
<rect x="261" y="266" width="3" height="1" fill="#ff0000"/>
<rect x="265" y="266" width="3" height="2" fill="#ff0000"/>
<rect x="268" y="266" width="3" height="3" fill="#ff0000"/>
<rect x="272" y="266" width="3" height="4" fill="#ff0000"/>
<rect x="275" y="266" width="3" height="4" fill="#ff0000"/>
<rect x="279" y="266" width="3" height="3" fill="#ff0000"/>
<rect x="282" y="266" width="3" height="2" fill="#ff0000"/>
<rect x="285" y="266" width="3" height="3" fill="#ff0000"/>
<rect x="289" y="266" width="3" height="4" fill="#ff0000"/>
<rect x="292" y="266" width="3" height="4" fill="#ff0000"/>
<rect x="296" y="266" width="3" height="4" fill="#ff0000"/>
<rect x="299" y="266" width="3" height="3" fill="#ff0000"/>
<rect x="303" y="266" width="3" height="2" fill="#ff0000"/>
<rect x="306" y="266" width="3" height="1" fill="#ff0000"/>
<rect x="309" y="266" width="3" height="1" fill="#ff0000"/>
<rect x="313" y="266" width="3" height="2" fill="#ff0000"/>
<rect x="316" y="266" width="3" height="2" fill="#ff0000"/>
<rect x="320" y="266" width="3" height="2" fill="#ff0000"/>
<rect x="323" y="266" width="3" height="2" fill="#ff0000"/>
<rect x="327" y="266" width="3" height="1" fill="#ff0000"/>
<rect x="330" y="266" width="3" height="1" fill="#ff0000"/>
<rect x="333" y="266" width="3" height="1" fill="#ff0000"/>
<rect x="337" y="266" width="3" height="1" fill="#ff0000"/>
<rect x="340" y="266" width="3" height="1" fill="#ff0000"/>
<rect x="344" y="266" width="3" height="1" fill="#ff0000"/>
<rect x="347" y="266" width="3" height="1" fill="#ff0000"/>
<rect x="351" y="266" width="3" height="1" fill="#ff0000"/>
<rect x="354" y="266" width="3" height="1" fill="#ff0000"/>
<rect x="358" y="266" width="3" height="1" fill="#ff0000"/>
<rect x="361" y="266" width="3" height="1" fill="#ff0000"/>
<rect x="364" y="266" width="3" height="1" fill="#ff0000"/>
<rect x="368" y="266" width="3" height="1" fill="#ff0000"/>
<rect x="371" y="266" width="3" height="2" fill="#ff0000"/>
<rect x="375" y="266" width="3" height="2" fill="#ff0000"/>
<rect x="378" y="266" width="3" height="3" fill="#ff0000"/>
<rect x="382" y="266" width="3" height="3" fill="#ff0000"/>
<rect x="385" y="266" width="3" height="3" fill="#ff0000"/>
<rect x="388" y="266" width="3" height="5" fill="#ff0000"/>
<rect x="392" y="266" width="3" height="7" fill="#ff0000"/>
<rect x="395" y="266" width="3" height="8" fill="#ff0000"/>
<rect x="399" y="266" width="3" height="7" fill="#ff0000"/>
<rect x="402" y="266" width="3" height="7" fill="#ff0000"/>
<rect x="406" y="266" width="3" height="6" fill="#ff0000"/>
<rect x="409" y="266" width="3" height="5" fill="#ff0000"/>
<rect x="412" y="266" width="3" height="5" fill="#ff0000"/>
<rect x="416" y="266" width="3" height="4" fill="#ff0000"/>
<rect x="419" y="266" width="3" height="4" fill="#ff0000"/>
<rect x="423" y="266" width="3" height="3" fill="#ff0000"/>
<rect x="426" y="266" width="3" height="3" fill="#ff0000"/>
<rect x="430" y="266" width="3" height="3" fill="#ff0000"/>
<rect x="433" y="266" width="3" height="3" fill="#ff0000"/>
<rect x="437" y="266" width="3" height="2" fill="#ff0000"/>
<rect x="440" y="266" width="3" height="3" fill="#ff0000"/>
<rect x="443" y="266" width="3" height="2" fill="#ff0000"/>
<rect x="447" y="266" width="3" height="1" fill="#ff0000"/>
<rect x="450" y="264" width="3" height="2" fill="#ff0000"/>
<rect x="454" y="265" width="3" height="1" fill="#ff0000"/>
<rect x="457" y="266" width="3" height="1" fill="#ff0000"/>
<rect x="461" y="266" width="3" height="1" fill="#ff0000"/>
<rect x="464" y="266" width="3" height="1" fill="#ff0000"/>
<rect x="467" y="266" width="3" height="1" fill="#ff0000"/>
<rect x="471" y="266" width="3" height="1" fill="#ff0000"/>
<rect x="474" y="266" width="3" height="1" fill="#ff0000"/>
<rect x="478" y="266" width="3" height="1" fill="#ff0000"/>
<rect x="481" y="266" width="3" height="1" fill="#ff0000"/>
<rect x="485" y="266" width="3" height="1" fill="#ff0000"/>
<rect x="488" y="266" width="3" height="1" fill="#ff0000"/>
<rect x="491" y="266" width="3" height="1" fill="#ff0000"/>
</g>
<path d="M236 245h9v1h-9zM224 246h12v1h-12zM245 246h4v1h-4zM204 247h20v1h-20zM249 247h2v1h-2zM200 248h4v1h-4zM251 248h11v1h-11zM199 249h1v1h-1zM262 249h3v1h-3zM198 250h1v1h-1zM265 250h2v1h-2zM195 251h3v1h-3zM267 251h2v1h-2zM193 252h2v1h-2zM269 252h3v1h-3zM191 253h2v1h-2zM272 253h2v1h-2zM190 254h1v1h-1zM274 254h10v1h-10zM188 255h2v1h-2zM284 255h2v1h-2zM187 256h1v1h-1zM286 256h3v1h-3zM186 257h1v1h-1zM289 257h2v1h-2zM182 258h4v1h-4zM291 258h2v1h-2zM303 258h6v1h-6zM175 259h7v1h-7zM293 259h2v1h-2zM299 259h4v1h-4zM309 259h3v1h-3zM169 260h6v1h-6zM295 260h4v1h-4zM312 260h3v1h-3zM168 261h1v1h-1zM315 261h4v1h-4zM327 261h21v1h-21zM54 262h9v1h-9zM167 262h1v1h-1zM319 262h8v1h-8zM348 262h20v1h-20zM51 263h3v1h-3zM63 263h3v1h-3zM166 263h1v1h-1zM368 263h3v1h-3zM49 264h2v1h-2zM66 264h3v1h-3zM164 264h3v1h-3zM371 264h7v1h-7zM47 265h2v1h-2zM69 265h6v1h-6zM162 265h2v1h-2zM377 265h2v1h-2zM46 266h1v1h-1zM75 266h2v1h-2zM89 266h9v1h-9zM159 266h3v1h-3zM379 266h1v1h-1zM44 267h2v1h-2zM77 267h5v1h-5zM85 267h5v1h-5zM98 267h6v1h-6zM149 267h10v1h-10zM380 267h2v1h-2zM42 268h2v1h-2zM82 268h3v1h-3zM104 268h2v1h-2zM146 268h3v1h-3zM156 268h1v1h-1zM382 268h4v1h-4zM40 269h2v1h-2zM106 269h3v1h-3zM145 269h1v1h-1zM386 269h1v1h-1zM33 270h8v1h-8zM109 270h1v1h-1zM144 270h1v1h-1zM387 270h1v1h-1zM32 271h1v1h-1zM110 271h2v1h-2zM143 271h1v1h-1zM388 271h1v1h-1zM30 272h2v1h-2zM112 272h2v1h-2zM142 272h1v1h-1zM389 272h1v1h-1zM29 273h1v1h-1zM114 273h1v1h-1zM141 273h1v1h-1zM390 273h1v1h-1zM28 274h1v1h-1zM115 274h1v1h-1zM139 274h2v1h-2zM390 274h2v1h-2zM26 275h2v1h-2zM116 275h2v1h-2zM137 275h2v1h-2zM392 275h1v1h-1zM26 276h1v1h-1zM118 276h1v1h-1zM136 276h1v1h-1zM393 276h1v1h-1zM25 277h1v1h-1zM119 277h2v1h-2zM133 277h3v1h-3zM394 277h1v1h-1zM24 278h1v1h-1zM121 278h3v1h-3zM129 278h4v1h-4zM395 278h1v1h-1zM23 279h1v1h-1zM124 279h6v1h-6zM396 279h2v1h-2zM20 280h3v1h-3zM398 280h4v1h-4zM18 281h2v1h-2zM402 281h4v1h-4zM18 282h1v1h-1zM406 282h6v1h-6zM17 283h1v1h-1zM412 283h8v1h-8zM16 284h1v1h-1zM419 284h10v1h-10zM16 285h1v1h-1zM428 285h5v1h-5zM15 286h1v1h-1zM433 286h6v1h-6zM15 287h1v1h-1zM439 287h20v1h-20zM459 288h8v1h-8zM467 289h17v1h-17zM484 290h9v1h-9z" fill="#009030" shape-rendering="crispEdges"/>
<path d="M237 247h26v1h-26zM220 248h17v1h-17zM263 248h6v1h-6zM214 249h6v1h-6zM269 249h7v1h-7zM210 250h4v1h-4zM276 250h3v1h-3zM207 251h3v1h-3zM279 251h3v1h-3zM205 252h2v1h-2zM282 252h5v1h-5zM203 253h2v1h-2zM287 253h5v1h-5zM201 254h2v1h-2zM292 254h2v1h-2zM199 255h2v1h-2zM294 255h2v1h-2zM197 256h2v1h-2zM295 256h8v1h-8zM195 257h2v1h-2zM303 257h7v1h-7zM192 258h3v1h-3zM310 258h6v1h-6zM190 259h2v1h-2zM316 259h5v1h-5zM188 260h2v1h-2zM321 260h23v1h-23zM184 261h4v1h-4zM344 261h23v1h-23zM180 262h4v1h-4zM367 262h7v1h-7zM177 263h3v1h-3zM374 263h7v1h-7zM174 264h3v1h-3zM381 264h3v1h-3zM172 265h2v1h-2zM384 265h3v1h-3zM63 266h21v1h-21zM169 266h3v1h-3zM387 266h1v1h-1zM59 267h4v1h-4zM84 267h22v1h-22zM167 267h2v1h-2zM388 267h2v1h-2zM56 268h3v1h-3zM106 268h6v1h-6zM164 268h3v1h-3zM390 268h2v1h-2zM54 269h2v1h-2zM112 269h3v1h-3zM161 269h3v1h-3zM392 269h2v1h-2zM52 270h2v1h-2zM115 270h2v1h-2zM157 270h4v1h-4zM394 270h2v1h-2zM50 271h2v1h-2zM117 271h2v1h-2zM154 271h3v1h-3zM396 271h2v1h-2zM48 272h2v1h-2zM119 272h3v1h-3zM150 272h4v1h-4zM398 272h2v1h-2zM46 273h2v1h-2zM121 273h3v1h-3zM147 273h3v1h-3zM399 273h3v1h-3zM45 274h1v1h-1zM124 274h3v1h-3zM144 274h3v1h-3zM402 274h2v1h-2zM43 275h2v1h-2zM127 275h17v1h-17zM404 275h3v1h-3zM41 276h2v1h-2zM407 276h2v1h-2zM40 277h1v1h-1zM409 277h3v1h-3zM38 278h2v1h-2zM412 278h3v1h-3zM36 279h2v1h-2zM415 279h4v1h-4zM34 280h2v1h-2zM419 280h4v1h-4zM32 281h2v1h-2zM423 281h5v1h-5zM31 282h1v1h-1zM428 282h5v1h-5zM30 283h1v1h-1zM433 283h3v1h-3zM28 284h2v1h-2zM436 284h3v1h-3zM27 285h1v1h-1zM439 285h11v1h-11zM25 286h2v1h-2zM450 286h14v1h-14zM24 287h1v1h-1zM464 287h11v1h-11zM22 288h2v1h-2zM474 288h10v1h-10zM20 289h2v1h-2zM484 289h9v1h-9zM19 290h1v1h-1zM18 291h1v1h-1zM17 292h1v1h-1zM16 293h1v1h-1zM15 294h1v1h-1z" fill="#0000e0" shape-rendering="crispEdges"/>
<line x1="15" y1="347.5" x2="553" y2="347.5" stroke="#ff0000" stroke-width="1" stroke-dasharray="6 4" shape-rendering="crispEdges"/>
<line x1="11" y1="384.5" x2="549" y2="384.5" stroke="#000" stroke-width="1" stroke-dasharray="6 4" shape-rendering="crispEdges"/>
<path d="M239 326h4v1h-4zM238 327h1v1h-1zM242 327h1v1h-1zM228 328h1v1h-1zM237 328h1v1h-1zM243 328h1v1h-1zM191 329h4v1h-4zM200 329h1v1h-1zM227 329h1v1h-1zM229 329h2v1h-2zM236 329h1v1h-1zM243 329h1v1h-1zM190 330h1v1h-1zM195 330h1v1h-1zM199 330h1v1h-1zM201 330h1v1h-1zM226 330h1v1h-1zM231 330h2v1h-2zM235 330h1v1h-1zM243 330h1v1h-1zM190 331h1v1h-1zM196 331h1v1h-1zM198 331h1v1h-1zM202 331h1v1h-1zM211 331h1v1h-1zM225 331h1v1h-1zM233 331h2v1h-2zM244 331h1v1h-1zM255 331h3v1h-3zM170 332h1v1h-1zM189 332h1v1h-1zM197 332h2v1h-2zM203 332h1v1h-1zM210 332h1v1h-1zM212 332h1v1h-1zM224 332h1v1h-1zM244 332h1v1h-1zM254 332h1v1h-1zM258 332h2v1h-2zM170 333h2v1h-2zM189 333h1v1h-1zM197 333h1v1h-1zM204 333h1v1h-1zM209 333h1v1h-1zM213 333h1v1h-1zM222 333h2v1h-2zM244 333h1v1h-1zM253 333h1v1h-1zM260 333h2v1h-2zM169 334h1v1h-1zM171 334h1v1h-1zM188 334h1v1h-1zM205 334h2v1h-2zM208 334h1v1h-1zM214 334h8v1h-8zM245 334h1v1h-1zM248 334h3v1h-3zM253 334h1v1h-1zM262 334h1v1h-1zM268 334h2v1h-2zM168 335h1v1h-1zM171 335h1v1h-1zM188 335h1v1h-1zM207 335h1v1h-1zM245 335h3v1h-3zM251 335h2v1h-2zM263 335h1v1h-1zM265 335h3v1h-3zM270 335h1v1h-1zM280 335h1v1h-1zM146 336h1v1h-1zM167 336h1v1h-1zM171 336h1v1h-1zM187 336h1v1h-1zM245 336h1v1h-1zM264 336h1v1h-1zM270 336h1v1h-1zM279 336h1v1h-1zM281 336h1v1h-1zM307 336h1v1h-1zM145 337h2v1h-2zM166 337h1v1h-1zM172 337h1v1h-1zM186 337h1v1h-1zM270 337h1v1h-1zM279 337h1v1h-1zM282 337h1v1h-1zM306 337h1v1h-1zM308 337h1v1h-1zM144 338h1v1h-1zM147 338h1v1h-1zM165 338h1v1h-1zM172 338h1v1h-1zM185 338h1v1h-1zM271 338h1v1h-1zM278 338h1v1h-1zM282 338h1v1h-1zM305 338h1v1h-1zM308 338h1v1h-1zM328 338h2v1h-2zM18 339h1v1h-1zM52 339h1v1h-1zM143 339h1v1h-1zM147 339h1v1h-1zM165 339h1v1h-1zM172 339h1v1h-1zM184 339h1v1h-1zM271 339h1v1h-1zM277 339h1v1h-1zM283 339h1v1h-1zM301 339h5v1h-5zM309 339h1v1h-1zM327 339h1v1h-1zM330 339h1v1h-1zM359 339h1v1h-1zM18 340h2v1h-2zM47 340h5v1h-5zM53 340h1v1h-1zM143 340h1v1h-1zM148 340h1v1h-1zM164 340h1v1h-1zM172 340h1v1h-1zM179 340h5v1h-5zM271 340h1v1h-1zM277 340h1v1h-1zM283 340h4v1h-4zM300 340h1v1h-1zM309 340h1v1h-1zM326 340h1v1h-1zM331 340h1v1h-1zM357 340h2v1h-2zM360 340h1v1h-1zM17 341h1v1h-1zM19 341h1v1h-1zM32 341h1v1h-1zM45 341h2v1h-2zM54 341h1v1h-1zM142 341h1v1h-1zM148 341h1v1h-1zM159 341h1v1h-1zM164 341h1v1h-1zM173 341h1v1h-1zM178 341h1v1h-1zM272 341h1v1h-1zM276 341h1v1h-1zM287 341h1v1h-1zM300 341h1v1h-1zM310 341h1v1h-1zM325 341h1v1h-1zM332 341h1v1h-1zM356 341h1v1h-1zM361 341h1v1h-1zM17 342h1v1h-1zM19 342h1v1h-1zM30 342h2v1h-2zM33 342h1v1h-1zM43 342h2v1h-2zM55 342h2v1h-2zM142 342h1v1h-1zM148 342h1v1h-1zM158 342h1v1h-1zM160 342h1v1h-1zM164 342h1v1h-1zM173 342h1v1h-1zM176 342h2v1h-2zM272 342h1v1h-1zM275 342h1v1h-1zM287 342h1v1h-1zM300 342h1v1h-1zM310 342h1v1h-1zM324 342h2v1h-2zM333 342h2v1h-2zM347 342h2v1h-2zM355 342h1v1h-1zM362 342h1v1h-1zM17 343h1v1h-1zM20 343h1v1h-1zM28 343h2v1h-2zM34 343h1v1h-1zM43 343h1v1h-1zM57 343h2v1h-2zM91 343h1v1h-1zM141 343h1v1h-1zM149 343h1v1h-1zM158 343h1v1h-1zM161 343h1v1h-1zM163 343h1v1h-1zM173 343h4v1h-4zM272 343h1v1h-1zM274 343h1v1h-1zM288 343h1v1h-1zM299 343h1v1h-1zM310 343h2v1h-2zM324 343h1v1h-1zM335 343h1v1h-1zM345 343h2v1h-2zM349 343h2v1h-2zM353 343h2v1h-2zM363 343h1v1h-1zM16 344h1v1h-1zM20 344h1v1h-1zM27 344h1v1h-1zM34 344h1v1h-1zM42 344h1v1h-1zM59 344h3v1h-3zM90 344h1v1h-1zM92 344h1v1h-1zM141 344h1v1h-1zM149 344h1v1h-1zM158 344h1v1h-1zM162 344h2v1h-2zM273 344h2v1h-2zM288 344h1v1h-1zM299 344h1v1h-1zM311 344h1v1h-1zM323 344h1v1h-1zM335 344h3v1h-3zM341 344h5v1h-5zM351 344h2v1h-2zM363 344h1v1h-1zM16 345h1v1h-1zM20 345h1v1h-1zM26 345h1v1h-1zM35 345h1v1h-1zM42 345h1v1h-1zM61 345h1v1h-1zM89 345h1v1h-1zM93 345h1v1h-1zM140 345h1v1h-1zM150 345h2v1h-2zM157 345h1v1h-1zM273 345h1v1h-1zM289 345h1v1h-1zM299 345h1v1h-1zM312 345h1v1h-1zM317 345h1v1h-1zM323 345h1v1h-1zM338 345h3v1h-3zM364 345h1v1h-1zM15 346h1v1h-1zM21 346h1v1h-1zM25 346h1v1h-1zM35 346h1v1h-1zM41 346h1v1h-1zM62 346h1v1h-1zM73 346h1v1h-1zM88 346h1v1h-1zM94 346h1v1h-1zM140 346h1v1h-1zM152 346h1v1h-1zM157 346h1v1h-1zM289 346h1v1h-1zM298 346h1v1h-1zM312 346h1v1h-1zM316 346h1v1h-1zM318 346h1v1h-1zM322 346h1v1h-1zM365 346h1v1h-1zM15 347h1v1h-1zM21 347h1v1h-1zM24 347h1v1h-1zM36 347h1v1h-1zM41 347h1v1h-1zM63 347h1v1h-1zM72 347h2v1h-2zM87 347h1v1h-1zM95 347h1v1h-1zM139 347h1v1h-1zM153 347h2v1h-2zM156 347h1v1h-1zM290 347h1v1h-1zM298 347h1v1h-1zM313 347h1v1h-1zM315 347h1v1h-1zM319 347h1v1h-1zM322 347h1v1h-1zM366 347h4v1h-4zM376 347h1v1h-1zM21 348h1v1h-1zM23 348h1v1h-1zM37 348h1v1h-1zM40 348h1v1h-1zM64 348h2v1h-2zM72 348h1v1h-1zM74 348h1v1h-1zM85 348h2v1h-2zM95 348h5v1h-5zM136 348h4v1h-4zM155 348h2v1h-2zM291 348h2v1h-2zM298 348h1v1h-1zM313 348h1v1h-1zM315 348h1v1h-1zM320 348h2v1h-2zM370 348h1v1h-1zM375 348h2v1h-2zM22 349h2v1h-2zM38 349h2v1h-2zM66 349h1v1h-1zM71 349h1v1h-1zM75 349h1v1h-1zM84 349h1v1h-1zM100 349h1v1h-1zM135 349h1v1h-1zM156 349h1v1h-1zM293 349h5v1h-5zM314 349h1v1h-1zM321 349h1v1h-1zM370 349h1v1h-1zM375 349h2v1h-2zM22 350h1v1h-1zM39 350h1v1h-1zM67 350h1v1h-1zM71 350h1v1h-1zM75 350h1v1h-1zM82 350h2v1h-2zM101 350h1v1h-1zM134 350h1v1h-1zM371 350h1v1h-1zM374 350h1v1h-1zM377 350h1v1h-1zM68 351h3v1h-3zM76 351h1v1h-1zM80 351h2v1h-2zM102 351h1v1h-1zM133 351h1v1h-1zM371 351h1v1h-1zM374 351h1v1h-1zM377 351h1v1h-1zM76 352h1v1h-1zM79 352h2v1h-2zM103 352h1v1h-1zM132 352h1v1h-1zM372 352h2v1h-2zM378 352h1v1h-1zM77 353h2v1h-2zM104 353h3v1h-3zM131 353h1v1h-1zM372 353h1v1h-1zM378 353h1v1h-1zM107 354h2v1h-2zM130 354h1v1h-1zM378 354h1v1h-1zM109 355h1v1h-1zM129 355h1v1h-1zM379 355h1v1h-1zM110 356h1v1h-1zM128 356h1v1h-1zM379 356h1v1h-1zM111 357h1v1h-1zM128 357h1v1h-1zM379 357h7v1h-7zM112 358h1v1h-1zM127 358h1v1h-1zM386 358h1v1h-1zM113 359h1v1h-1zM126 359h1v1h-1zM387 359h1v1h-1zM113 360h1v1h-1zM125 360h1v1h-1zM387 360h1v1h-1zM114 361h1v1h-1zM124 361h1v1h-1zM387 361h1v1h-1zM115 362h1v1h-1zM123 362h1v1h-1zM388 362h1v1h-1zM410 362h1v1h-1zM116 363h2v1h-2zM122 363h1v1h-1zM388 363h1v1h-1zM409 363h1v1h-1zM411 363h1v1h-1zM118 364h2v1h-2zM121 364h1v1h-1zM388 364h1v1h-1zM408 364h1v1h-1zM411 364h1v1h-1zM120 365h1v1h-1zM388 365h1v1h-1zM408 365h1v1h-1zM412 365h1v1h-1zM389 366h1v1h-1zM400 366h6v1h-6zM407 366h1v1h-1zM413 366h1v1h-1zM448 366h4v1h-4zM389 367h1v1h-1zM399 367h1v1h-1zM406 367h2v1h-2zM413 367h2v1h-2zM427 367h1v1h-1zM447 367h1v1h-1zM452 367h1v1h-1zM389 368h1v1h-1zM399 368h1v1h-1zM415 368h6v1h-6zM426 368h1v1h-1zM428 368h1v1h-1zM446 368h1v1h-1zM453 368h1v1h-1zM475 368h1v1h-1zM389 369h2v1h-2zM398 369h1v1h-1zM421 369h2v1h-2zM425 369h1v1h-1zM429 369h1v1h-1zM445 369h1v1h-1zM453 369h1v1h-1zM475 369h2v1h-2zM391 370h1v1h-1zM397 370h1v1h-1zM423 370h2v1h-2zM430 370h1v1h-1zM444 370h1v1h-1zM454 370h1v1h-1zM474 370h1v1h-1zM476 370h1v1h-1zM392 371h3v1h-3zM396 371h1v1h-1zM431 371h1v1h-1zM444 371h1v1h-1zM455 371h1v1h-1zM474 371h1v1h-1zM477 371h1v1h-1zM481 371h2v1h-2zM395 372h2v1h-2zM431 372h3v1h-3zM443 372h1v1h-1zM456 372h1v1h-1zM462 372h2v1h-2zM474 372h1v1h-1zM478 372h3v1h-3zM483 372h1v1h-1zM488 372h2v1h-2zM434 373h2v1h-2zM442 373h1v1h-1zM457 373h1v1h-1zM460 373h2v1h-2zM464 373h3v1h-3zM473 373h1v1h-1zM478 373h1v1h-1zM484 373h1v1h-1zM486 373h2v1h-2zM490 373h2v1h-2zM436 374h2v1h-2zM442 374h1v1h-1zM457 374h1v1h-1zM459 374h1v1h-1zM467 374h2v1h-2zM473 374h1v1h-1zM485 374h1v1h-1zM492 374h1v1h-1zM438 375h2v1h-2zM441 375h1v1h-1zM458 375h1v1h-1zM469 375h2v1h-2zM472 375h1v1h-1zM440 376h2v1h-2zM471 376h2v1h-2z" fill="#009030" shape-rendering="crispEdges"/>
<path d="M306,334h3v3h-3v-1h-1v-1h1z" fill="#ff0000" shape-rendering="crispEdges"/>
<g shape-rendering="crispEdges" fill="none" stroke="#000" stroke-width="1">
<rect x="9.5" y="22.5" width="540" height="167"/>
<rect x="9.5" y="234.5" width="540" height="70"/>
<rect x="9.5" y="315.5" width="540" height="71"/>
</g>
<g shape-rendering="crispEdges" fill="#ff0000">
<rect x="32" y="190" width="1" height="2"/>
<rect x="49" y="190" width="1" height="2"/>
<rect x="67" y="190" width="1" height="2"/>
<rect x="84" y="190" width="1" height="2"/>
<rect x="101" y="190" width="1" height="2"/>
<rect x="118" y="190" width="1" height="2"/>
<rect x="135" y="190" width="1" height="2"/>
<rect x="152" y="190" width="1" height="2"/>
<rect x="166" y="190" width="1" height="2"/>
<rect x="183" y="190" width="1" height="2"/>
<rect x="200" y="190" width="1" height="2"/>
<rect x="218" y="190" width="1" height="2"/>
<rect x="235" y="190" width="1" height="2"/>
<rect x="252" y="190" width="1" height="2"/>
<rect x="269" y="190" width="1" height="2"/>
<rect x="286" y="190" width="1" height="2"/>
<rect x="304" y="190" width="1" height="2"/>
<rect x="321" y="190" width="1" height="2"/>
<rect x="338" y="190" width="1" height="2"/>
<rect x="355" y="190" width="1" height="2"/>
<rect x="372" y="190" width="1" height="2"/>
<rect x="389" y="190" width="1" height="2"/>
<rect x="407" y="190" width="1" height="2"/>
<rect x="424" y="190" width="1" height="2"/>
<rect x="441" y="190" width="1" height="2"/>
<rect x="458" y="190" width="1" height="2"/>
<rect x="475" y="190" width="1" height="2"/>
<rect x="492" y="190" width="1" height="2"/>
<rect x="512" y="190" width="1" height="2"/>
<rect x="529" y="190" width="1" height="2"/>
<rect x="550" y="51" width="4" height="1"/>
<rect x="550" y="86" width="4" height="1"/>
<rect x="550" y="121" width="4" height="1"/>
<rect x="550" y="156" width="4" height="1"/>
<rect x="550" y="266" width="4" height="1"/>
<rect x="550" y="347" width="4" height="1"/>
<rect x="550" y="374" width="4" height="1"/>
<rect x="550" y="290" width="2" height="1"/>
</g>
<g opacity="0.999" class="tx">
<text x="554" y="56" fill="#000" stroke="#000">60.0000</text>
<text x="554" y="91" fill="#000" stroke="#000">55.0000</text>
<text x="554" y="126" fill="#000" stroke="#000">50.0000</text>
<text x="554" y="161" fill="#000" stroke="#000">45.0000</text>
<text x="554" y="271" fill="#000" stroke="#000">0.0000</text>
<text x="554" y="352" fill="#000" stroke="#000">50.0000</text>
<rect x="552.5" y="172.5" width="44" height="13" fill="#fff" stroke="#ff0000" stroke-width="1" shape-rendering="crispEdges"/>
<text x="555" y="183" fill="#0000ff" stroke="#0000ff">41.7900</text>
<rect x="552.5" y="284.5" width="44" height="13" fill="#fff" stroke="#ff0000" stroke-width="1" shape-rendering="crispEdges"/>
<text x="555" y="295" fill="#0000ff" stroke="#0000ff">-2.8242</text>
<clipPath id="c1"><rect x="540" y="360" width="64" height="27"/></clipPath><g clip-path="url(#c1)">
<rect x="552.5" y="368.5" width="44" height="13" fill="#fff" stroke="#ff0000" stroke-width="1" shape-rendering="crispEdges"/>
<text x="555" y="379" fill="#0000ff" stroke="#0000ff">24.7841</text>
<rect x="552.5" y="378.5" width="44" height="13" fill="#fff" stroke="#ff0000" stroke-width="1" shape-rendering="crispEdges"/>
<text x="555" y="389" fill="#0000ff" stroke="#0000ff">15.4040</text>
</g>
<text x="31.5" y="204" text-anchor="middle" fill="#000" stroke="#000">09</text>
<text x="48.5" y="204" text-anchor="middle" fill="#000" stroke="#000">16</text>
<text x="66.5" y="204" text-anchor="middle" fill="#000" stroke="#000">23</text>
<text x="83.5" y="204" text-anchor="middle" fill="#000" stroke="#000">02</text>
<text x="100.5" y="204" text-anchor="middle" fill="#000" stroke="#000">09</text>
<text x="117.5" y="204" text-anchor="middle" fill="#000" stroke="#000">16</text>
<text x="134.5" y="204" text-anchor="middle" fill="#000" stroke="#000">23</text>
<text x="151.5" y="204" text-anchor="middle" fill="#000" stroke="#000">30</text>
<text x="165.5" y="204" text-anchor="middle" fill="#000" stroke="#000">06</text>
<text x="182.5" y="204" text-anchor="middle" fill="#000" stroke="#000">13</text>
<text x="199.5" y="204" text-anchor="middle" fill="#000" stroke="#000">20</text>
<text x="217.5" y="204" text-anchor="middle" fill="#000" stroke="#000">27</text>
<text x="234.5" y="204" text-anchor="middle" fill="#000" stroke="#000">04</text>
<text x="251.5" y="204" text-anchor="middle" fill="#000" stroke="#000">11</text>
<text x="268.5" y="204" text-anchor="middle" fill="#000" stroke="#000">18</text>
<text x="285.5" y="204" text-anchor="middle" fill="#000" stroke="#000">25</text>
<text x="303.5" y="204" text-anchor="middle" fill="#000" stroke="#000">01</text>
<text x="320.5" y="204" text-anchor="middle" fill="#000" stroke="#000">08</text>
<text x="337.5" y="204" text-anchor="middle" fill="#000" stroke="#000">15</text>
<text x="354.5" y="204" text-anchor="middle" fill="#000" stroke="#000">22</text>
<text x="371.5" y="204" text-anchor="middle" fill="#000" stroke="#000">29</text>
<text x="388.5" y="204" text-anchor="middle" fill="#000" stroke="#000">06</text>
<text x="406.5" y="204" text-anchor="middle" fill="#000" stroke="#000">13</text>
<text x="423.5" y="204" text-anchor="middle" fill="#000" stroke="#000">20</text>
<text x="440.5" y="204" text-anchor="middle" fill="#000" stroke="#000">27</text>
<text x="457.5" y="204" text-anchor="middle" fill="#000" stroke="#000">03</text>
<text x="474.5" y="204" text-anchor="middle" fill="#000" stroke="#000">10</text>
<text x="491.5" y="204" text-anchor="middle" fill="#000" stroke="#000">17</text>
<text x="511.5" y="204" text-anchor="middle" fill="#000" stroke="#000">24</text>
<text x="528.5" y="204" text-anchor="middle" fill="#000" stroke="#000">31</text>
<text x="7.35" y="219" fill="#000" stroke="#000" textLength="48.29" lengthAdjust="spacingAndGlyphs">Feb/09/15</text>
<text x="66.81" y="219" fill="#000" stroke="#000" textLength="33.38" lengthAdjust="spacingAndGlyphs">Mar/02</text>
<text x="149.70" y="219" fill="#000" stroke="#000" textLength="31.60" lengthAdjust="spacingAndGlyphs">Apr/06</text>
<text x="216.92" y="219" fill="#000" stroke="#000" textLength="35.17" lengthAdjust="spacingAndGlyphs">May/04</text>
<text x="304.40" y="219" fill="#000" stroke="#000" textLength="32.20" lengthAdjust="spacingAndGlyphs">Jun/08</text>
<text x="374.19" y="219" fill="#000" stroke="#000" textLength="28.61" lengthAdjust="spacingAndGlyphs">Jul/06</text>
<text x="440.51" y="219" fill="#000" stroke="#000" textLength="33.99" lengthAdjust="spacingAndGlyphs">Aug/03</text>
<text x="9" y="19" fill="#000" stroke="#000" id="t1" textLength="178" lengthAdjust="spacingAndGlyphs">WTI Crude 1. pos. , Daily, # 140 / 300</text>
<text x="187.7" y="19" fill="#0000ff" stroke="#0000ff" id="t2" textLength="104" lengthAdjust="spacingAndGlyphs">, MVG(1) 10=43.7300</text>
<text x="9.3" y="245" fill="#009030" stroke="#009030" id="m1" textLength="153.2" lengthAdjust="spacingAndGlyphs">MACD(1) 12.0;26.0;9.0=-2.8242</text>
<text x="163" y="245" fill="#0000e0" stroke="#0000e0" id="m2" textLength="39.4" lengthAdjust="spacingAndGlyphs">/-2.7256</text>
<text x="203.6" y="245" fill="#ff0000" stroke="#ff0000" id="m3" textLength="39" lengthAdjust="spacingAndGlyphs">/-0.0986</text>
<text x="9.3" y="326" fill="#009030" stroke="#009030" id="r1" textLength="88.7" lengthAdjust="spacingAndGlyphs">RSI(1) 14=24.7841</text>
</g>
<polygon points="15.5,232 21.5,226 27.5,232" fill="#7080a8"/>
<polygon points="31,226 42,226 36.5,232" fill="#7080a8"/>
<polygon points="585,226 587.5,226 589,227.3 590.5,226 593,226 591.3,229 593,232 590.5,232 589,230.7 587.5,232 585,232 586.7,229" fill="#6074a6"/>
<polygon points="15.5,313 21.5,307 27.5,313" fill="#7080a8"/>
<polygon points="31,307 42,307 36.5,313" fill="#7080a8"/>
<polygon points="585,307 587.5,307 589,308.3 590.5,307 593,307 591.3,310 593,313 590.5,313 589,311.7 587.5,313 585,313 586.7,310" fill="#6074a6"/>
</svg></body></html>
